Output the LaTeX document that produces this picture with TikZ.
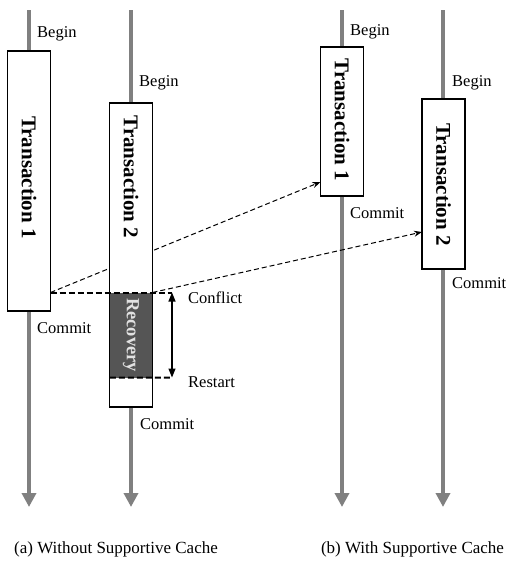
\documentclass[tikz,border=0pt]{standalone}
\usepackage{fontspec}
\setmainfont{Liberation Serif}
\usetikzlibrary{arrows.meta}
\definecolor{tlgray}{RGB}{128,128,128}
\definecolor{recfill}{RGB}{85,85,85}
\definecolor{rectext}{RGB}{225,225,225}
\begin{document}
\begin{tikzpicture}[x=1pt,y=-1pt,
  timeline/.style={draw=tlgray, line width=4pt, -{Triangle[width=14pt,length=14pt]}},
  tbox/.style={draw=black, line width=1.3pt, fill=white, minimum width=43pt, inner sep=0pt, outer sep=0pt},
  tlabel/.style={rotate=-90, font=\fontsize{21}{24}\selectfont\bfseries, inner sep=0pt},
  lbl/.style={anchor=west, font=\fontsize{16.5}{19}\selectfont, inner sep=0pt},
  captext/.style={font=\fontsize{17}{20}\selectfont, inner sep=0pt},
  hdash/.style={draw=black, line width=2pt, dash pattern=on 6pt off 3pt},
  ddash/.style={draw=black, line width=1pt, dash pattern=on 5pt off 3pt, -{Stealth[length=8pt,width=6pt]}},
  darrow/.style={draw=black, line width=1.2pt, {Triangle[length=9pt,width=7pt]}-{Triangle[length=9pt,width=7pt]}},
]
\useasboundingbox (0,0) rectangle (510,566);
% timelines
\coordinate (t1top) at (29,10);  \coordinate (t1bot) at (29,507);
\coordinate (t2top) at (131,10); \coordinate (t2bot) at (131,507);
\coordinate (t3top) at (342,10); \coordinate (t3bot) at (342,507);
\coordinate (t4top) at (443,10); \coordinate (t4bot) at (443,507);
\draw[timeline] (t1top) -- (t1bot);
\draw[timeline] (t2top) -- (t2bot);
\draw[timeline] (t3top) -- (t3bot);
\draw[timeline] (t4top) -- (t4bot);
% boxes
\node[tbox, minimum height=260pt] (b1a) at (29,181) {};
\node[tbox, minimum height=149pt] (b1b) at (342,121.5) {};
\node[tbox, minimum height=170pt] (b2b) at (443.5,184) {};
\coordinate (cf) at (172,292.5);
\coordinate (rs) at (172,377.5);
\draw[ddash] (b1a.east |- cf) -- ([yshift=14pt]b1b.south west);
\node[tbox, minimum height=304pt] (b2a) at (131,255) {};
\node[fill=recfill, minimum width=41.7pt, minimum height=85pt, inner sep=0pt] (rec) at (131,335) {};
\draw[ddash] (b2a.east |- cf) -- ([yshift=37pt]b2b.south west);
% conflict / restart
\draw[hdash] (b1a.east |- cf) -- (cf);
\draw[hdash] (rec.south west) -- (rs);
\draw[darrow] (cf) -- (rs);
% labels
\node[tlabel] (l1a) at (29,177.5) {Transaction 1};
\node[tlabel] (l2a) at (131,177) {Transaction 2};
\node[tlabel] (l1b) at (342,120) {Transaction 1};
\node[tlabel] (l2b) at (443.5,184.5) {Transaction 2};
\node[rotate=-90, text=rectext, font=\fontsize{18.5}{22}\selectfont\bfseries, inner sep=0pt] (lrec) at (rec.center) {Recovery};
\node[lbl] (bg1a) at (37,34) {Begin};
\node[lbl] (bg2a) at (139,83) {Begin};
\node[lbl] (cm1a) at (37,328) {Commit};
\node[lbl] (cm2a) at (140,424) {Commit};
\node[lbl] (conf) at (188,298) {Conflict};
\node[lbl] (rest) at (188,382) {Restart};
\node[lbl] (bg1b) at (350,32) {Begin};
\node[lbl] (bg2b) at (452,83) {Begin};
\node[lbl] (cm1b) at (350,213) {Commit};
\node[lbl] (cm2b) at (452,283) {Commit};
\node[captext] (capa) at (116,549) {(a) Without Supportive Cache};
\node[captext] (capb) at (412.5,549) {(b) With Supportive Cache};
\end{tikzpicture}
\end{document}
